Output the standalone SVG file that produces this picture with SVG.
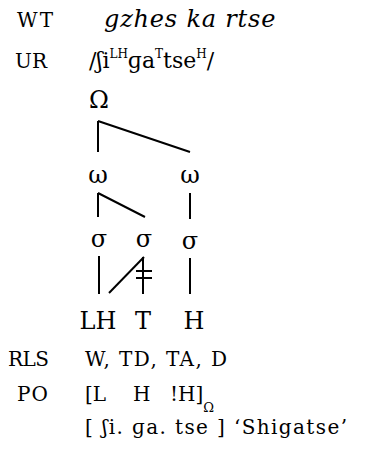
<svg xmlns="http://www.w3.org/2000/svg" width="365" height="451" viewBox="0 0 365 451">
  <style>
    text { font-family: "DejaVu Serif", "Liberation Serif", serif; fill: #000; }
    .lab { font-size: 20px; }
    .tr { font-size: 22px; }
    .node { font-size: 24px; text-anchor: middle; }
    .sup { font-size: 12px; }
    .it { font-style: italic; font-size: 24px; letter-spacing: 0.8px; }
    #links path { stroke: #000; stroke-width: 2; fill: none; }
  </style>
  <rect width="365" height="451" fill="#fff"/>

  <!-- tier labels and transcriptions -->
  <g id="wt">
    <text class="lab" x="17" y="27" textLength="36">WT</text>
    <text class="it" x="104" y="27">gzhes ka rtse</text>
  </g>
  <g id="ur">
    <text class="lab" x="15" y="68" textLength="32">UR</text>
    <text class="tr" x="89" y="68">/ʃi<tspan class="sup" dy="-10">LH</tspan><tspan dy="10">ɡa</tspan><tspan class="sup" dy="-10">T</tspan><tspan dy="10">tse</tspan><tspan class="sup" dy="-10">H</tspan><tspan dy="10">/</tspan></text>
  </g>

  <!-- prosodic tree -->
  <g id="omega-phrase"><text class="node" x="99" y="108">Ω</text></g>
  <g id="word1"><text class="node" x="98" y="183">ω</text></g>
  <g id="word2"><text class="node" x="190" y="183">ω</text></g>
  <g id="syl1"><text class="node" x="99" y="247">σ</text></g>
  <g id="syl2"><text class="node" x="144" y="247">σ</text></g>
  <g id="syl3"><text class="node" x="190" y="249">σ</text></g>
  <g id="tone-lh"><text class="node" x="98" y="329">LH</text></g>
  <g id="tone-t"><text class="node" x="143" y="329">T</text></g>
  <g id="tone-h"><text class="node" x="194" y="329">H</text></g>

  <g id="links">
    <path d="M98,121 V152 M98,121 L190,152"/>
    <path d="M98,193 V217 M98,193 L145,217"/>
    <path d="M190,193 V219"/>
    <path d="M99,256 V294"/>
    <path d="M109,293 L144,257"/>
    <path d="M143,257 V294 M136,271 H152 M136,278 H152"/>
    <path d="M190,258 V294"/>
  </g>

  <g id="rls">
    <text class="lab" x="8" y="366" textLength="41">RLS</text>
    <text class="lab" x="85" y="366" textLength="142">W, TD, TA, D</text>
  </g>
  <g id="po">
    <text class="lab" x="17" y="401" textLength="31">PO</text>
    <text class="lab" y="401"><tspan x="85">[L</tspan><tspan x="133">H</tspan><tspan x="170">!H]</tspan><tspan font-size="13" dy="11">Ω</tspan></text>
    <text class="lab" x="85" y="434" textLength="262">[ ʃi. ɡa. tse ] ‘Shigatse’</text>
  </g>
</svg>
